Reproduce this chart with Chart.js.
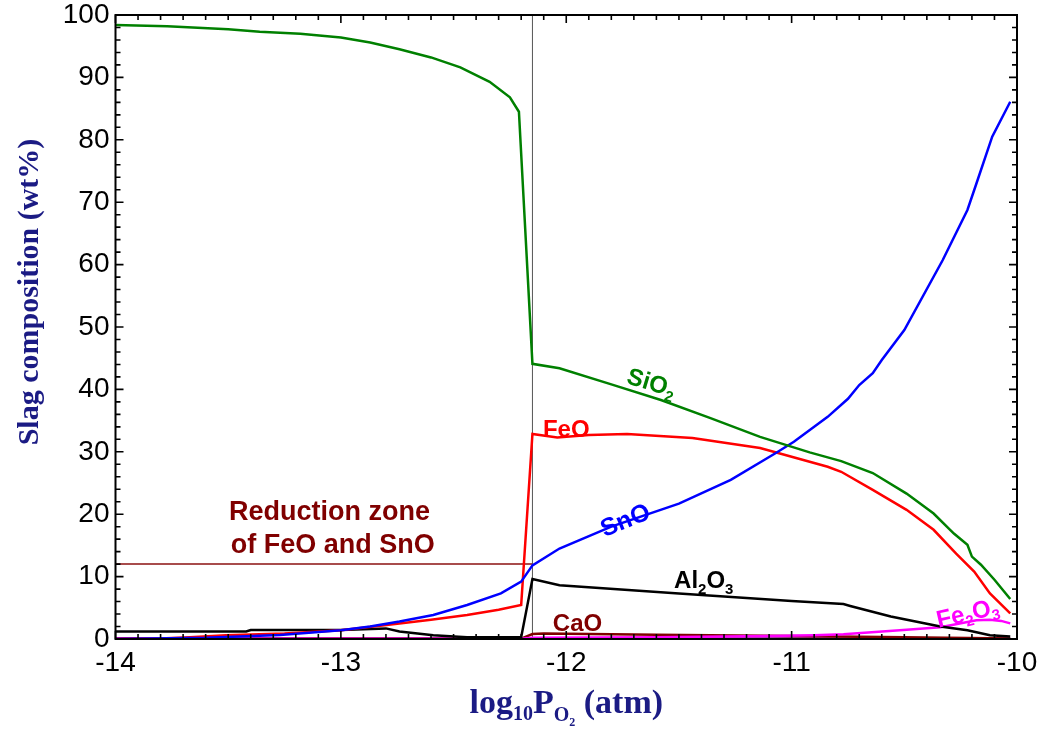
<!DOCTYPE html>
<html><head><meta charset="utf-8">
<script src="https://cdn.jsdelivr.net/npm/chart.js@4.4.0/dist/chart.umd.min.js"></script>
<style>html,body{margin:0;padding:0;background:#fff;}#wrap{width:1040px;height:731px;}</style>
</head><body><div id="wrap"><canvas id="c" width="1040" height="731"></canvas></div>
<script>
// ---- data ----
const sio2X = [-14, -13.77, -13.5, -13.36, -13.18, -13.0, -12.87, -12.74, -12.6, -12.47, -12.34, -12.25, -12.21, -12.15, -12.03, -11.8, -11.58, -11.36, -11.14, -10.92, -10.78, -10.64, -10.49, -10.37, -10.28, -10.22, -10.20, -10.16, -10.10, -10.03];
const sio2Y = [98.4, 98.2, 97.7, 97.3, 97.0, 96.4, 95.6, 94.5, 93.2, 91.6, 89.3, 86.8, 84.5, 44.1, 43.4, 40.8, 38.3, 35.4, 32.4, 29.9, 28.5, 26.6, 23.3, 20.1, 16.9, 15.1, 13.2, 11.9, 9.5, 6.4];
const feoX = [-14, -13.8, -13.67, -13.51, -13.25, -13.0, -12.74, -12.6, -12.44, -12.3, -12.2, -12.15, -12.04, -11.9, -11.73, -11.44, -11.14, -10.84, -10.78, -10.64, -10.49, -10.37, -10.27, -10.19, -10.12, -10.03];
const feoY = [0.0, 0.1, 0.3, 0.6, 0.9, 1.4, 2.5, 3.1, 3.85, 4.7, 5.45, 32.85, 32.3, 32.7, 32.85, 32.2, 30.6, 27.6, 26.8, 23.9, 20.7, 17.5, 13.7, 10.8, 7.3, 4.1];
const snoX = [-14, -13.6, -13.27, -13.0, -12.87, -12.74, -12.59, -12.44, -12.29, -12.2, -12.15, -12.03, -11.8, -11.5, -11.27, -11.07, -10.99, -10.84, -10.75, -10.70, -10.64, -10.60, -10.5, -10.33, -10.22, -10.18, -10.11, -10.03];
const snoY = [0.0, 0.2, 0.64, 1.4, 2.0, 2.8, 3.85, 5.45, 7.3, 9.2, 11.8, 14.5, 18.0, 21.7, 25.5, 29.8, 31.6, 35.6, 38.5, 40.7, 42.6, 44.7, 49.5, 60.7, 68.75, 73.0, 80.5, 86.1];
const al2o3X = [-14, -13.42, -13.4, -13.0, -12.8, -12.74, -12.59, -12.44, -12.2, -12.15, -12.03, -11.5, -11.0, -10.77, -10.74, -10.56, -10.34, -10.22, -10.12, -10.03];
const al2o3Y = [1.2, 1.2, 1.45, 1.45, 1.7, 1.2, 0.6, 0.3, 0.3, 9.6, 8.6, 7.3, 6.1, 5.6, 5.3, 3.6, 2.0, 1.4, 0.6, 0.4];
const fe2o3X = [-14, -12.2, -12.15, -11.6, -11.3, -11.1, -10.9, -10.77, -10.52, -10.34, -10.18, -10.12, -10.07, -10.03];
const fe2o3Y = [0.05, 0.05, 0.2, 0.3, 0.4, 0.5, 0.6, 0.75, 1.4, 1.9, 3.0, 3.1, 2.9, 2.5];
const caoX = [-14, -12.2, -12.15, -12.1, -11.6, -11.0, -10.5, -10.03];
const caoY = [0.05, 0.05, 0.8, 0.9, 0.7, 0.5, 0.3, 0.1];
const otherX = [-14, -10.03];
const otherY = [0.1, 0.1];
const reductionLineX = [-14, -12.15];
const reductionLineY = [12, 12];
const boundaryX = [-12.15, -12.15];
const boundaryY = [0, 100];

const xTickMin = -14, xTickMax = -10, xMajor = 1, xMinor = 0.1;
const yTickMin = 0, yTickMax = 100, yMajor = 10, yMinor = 2;

const annText  = ['SiO_2', 'FeO', 'SnO', 'Al_2O_3', 'CaO', 'Fe_2O_3', 'Reduction zone', 'of FeO and SnO'];
const annX     = [-11.62, -12.0, -11.74, -11.39, -11.95, -10.22, -13.05, -13.036];
const annY     = [41.2, 33.8, 19.2, 9.5, 2.7, 4.3, 20.7, 15.4];

// ---- helpers ----
function pts(xs, ys) { return xs.map((x, i) => ({x: x, y: ys[i]})); }

const annStyle = [
  {c: '#008000', a: 17, s: 24},
  {c: '#ff0000', a: 0, s: 24},
  {c: '#0000ff', a: -22, s: 25},
  {c: '#000000', a: 0, s: 24},
  {c: '#800000', a: 0, s: 24},
  {c: '#ff00ff', a: -13, s: 24},
  {c: '#800000', a: 0, s: 27},
  {c: '#800000', a: 0, s: 27}
];

function parseSegs(t) {
  const segs = [];
  for (let i = 0; i < t.length; i++) {
    if (t[i] === '_') { segs.push({t: t[i + 1], sub: true}); i++; }
    else {
      if (segs.length && !segs[segs.length - 1].sub) segs[segs.length - 1].t += t[i];
      else segs.push({t: t[i], sub: false});
    }
  }
  return segs;
}

const annotPlugin = {
  id: 'annot',
  afterDatasetsDraw(chart) {
    const ctx = chart.ctx, xs = chart.scales.x, ys = chart.scales.y;
    annText.forEach((txt, i) => {
      const st = annStyle[i];
      const segs = parseSegs(txt);
      const main = 'bold ' + st.s + 'px "Liberation Sans", Arial, sans-serif';
      const subS = Math.round(st.s * 0.62);
      const sub = 'bold ' + subS + 'px "Liberation Sans", Arial, sans-serif';
      ctx.save();
      let w = 0;
      segs.forEach(sg => { ctx.font = sg.sub ? sub : main; sg.w = ctx.measureText(sg.t).width; w += sg.w; });
      ctx.translate(xs.getPixelForValue(annX[i]), ys.getPixelForValue(annY[i]));
      ctx.rotate(st.a * Math.PI / 180);
      ctx.fillStyle = st.c;
      ctx.textBaseline = 'alphabetic';
      ctx.textAlign = 'left';
      let cx = -w / 2;
      const base = st.s * 0.36;
      segs.forEach(sg => {
        ctx.font = sg.sub ? sub : main;
        ctx.fillText(sg.t, cx, sg.sub ? base + st.s * 0.22 : base);
        cx += sg.w;
      });
      ctx.restore();
    });
  }
};

const framePlugin = {
  id: 'frame',
  afterDraw(chart) {
    const ctx = chart.ctx, a = chart.chartArea, xs = chart.scales.x, ys = chart.scales.y;
    ctx.save();
    ctx.strokeStyle = '#000';
    ctx.lineWidth = 1.6;
    ctx.beginPath();
    const nx = Math.round((xTickMax - xTickMin) / xMinor);
    const per = Math.round(xMajor / xMinor);
    for (let i = 0; i <= nx; i++) {
      const px = xs.getPixelForValue(xTickMin + i * xMinor);
      const len = (i % per === 0) ? 8 : 5;
      ctx.moveTo(px, a.bottom); ctx.lineTo(px, a.bottom - len);
      ctx.moveTo(px, a.top); ctx.lineTo(px, a.top + len);
    }
    const ny = Math.round((yTickMax - yTickMin) / yMinor);
    const pery = Math.round(yMajor / yMinor);
    for (let i = 0; i <= ny; i++) {
      const py = ys.getPixelForValue(yTickMin + i * yMinor);
      const len = (i % pery === 0) ? 8 : 5;
      ctx.moveTo(a.left, py); ctx.lineTo(a.left + len, py);
      ctx.moveTo(a.right, py); ctx.lineTo(a.right - len, py);
    }
    ctx.stroke();
    ctx.lineWidth = 2;
    ctx.strokeRect(a.left, a.top, a.right - a.left, a.bottom - a.top);

    // axis titles
    const navy = '#1b1b84';
    ctx.fillStyle = navy;
    ctx.textBaseline = 'alphabetic';
    // y title
    ctx.save();
    ctx.translate(38, 292);
    ctx.rotate(-Math.PI / 2);
    ctx.font = 'bold 30px "Liberation Serif", "Times New Roman", serif';
    ctx.textAlign = 'center';
    ctx.fillText('Slag composition (wt%)', 0, 0);
    ctx.restore();
    // x title with subscripts
    const parts = [
      {t: 'log', f: 34, dy: 0},
      {t: '10', f: 20, dy: 7},
      {t: 'P', f: 34, dy: 0},
      {t: 'O', f: 20, dy: 8},
      {t: '2', f: 12, dy: 13},
      {t: ' (atm)', f: 34, dy: 0}
    ];
    let tw = 0;
    parts.forEach(p => { ctx.font = 'bold ' + p.f + 'px "Liberation Serif", "Times New Roman", serif'; p.w = ctx.measureText(p.t).width; tw += p.w; });
    let cx = (a.left + a.right) / 2 - tw / 2;
    const by = 713;
    ctx.textAlign = 'left';
    parts.forEach(p => {
      ctx.font = 'bold ' + p.f + 'px "Liberation Serif", "Times New Roman", serif';
      ctx.fillText(p.t, cx, by + p.dy);
      cx += p.w;
    });
    ctx.restore();
  }
};

function ds(label, xs, ys, color, width, order) {
  return {label: label, data: pts(xs, ys), borderColor: color, backgroundColor: color,
    borderWidth: width, pointRadius: 0, fill: false, tension: 0, order: order};
}

new Chart(document.getElementById('c'), {
  type: 'line',
  data: {
    datasets: [
      ds('Reduction zone limit', reductionLineX, reductionLineY, '#8b1010', 1.5, 9),
      ds('Boundary', boundaryX, boundaryY, '#555555', 1, 8),
      ds('other', otherX, otherY, '#800080', 2.5, 7),
      ds('CaO', caoX, caoY, '#800000', 2.5, 6),
      ds('Fe2O3', fe2o3X, fe2o3Y, '#ff00ff', 2.5, 5),
      ds('Al2O3', al2o3X, al2o3Y, '#000000', 2.5, 4),
      ds('FeO', feoX, feoY, '#ff0000', 2.5, 3),
      ds('SnO', snoX, snoY, '#0000ff', 2.5, 2),
      ds('SiO2', sio2X, sio2Y, '#008000', 2.5, 1)
    ]
  },
  options: {
    responsive: false,
    animation: false,
    devicePixelRatio: 1,
    layout: {padding: {left: 0, right: 23, top: 15, bottom: 0}},
    plugins: {legend: {display: false}, tooltip: {enabled: false}},
    scales: {
      x: {
        type: 'linear', min: xTickMin, max: xTickMax,
        grid: {display: false, drawTicks: false},
        border: {display: false},
        ticks: {stepSize: xMajor, padding: 10, color: '#000',
          font: {family: '"Liberation Sans", Arial, sans-serif', size: 28, lineHeight: 1}},
        afterFit: s => { s.height = 92; s.paddingLeft = 0; s.paddingRight = 0; }
      },
      y: {
        type: 'linear', min: yTickMin, max: yTickMax,
        grid: {display: false, drawTicks: false},
        border: {display: false},
        ticks: {stepSize: yMajor, padding: 6, color: '#000',
          font: {family: '"Liberation Sans", Arial, sans-serif', size: 28, lineHeight: 1}},
        afterFit: s => { s.width = 115.5; s.paddingTop = 0; s.paddingBottom = 0; }
      }
    }
  },
  plugins: [annotPlugin, framePlugin]
});
</script>
</body></html>
